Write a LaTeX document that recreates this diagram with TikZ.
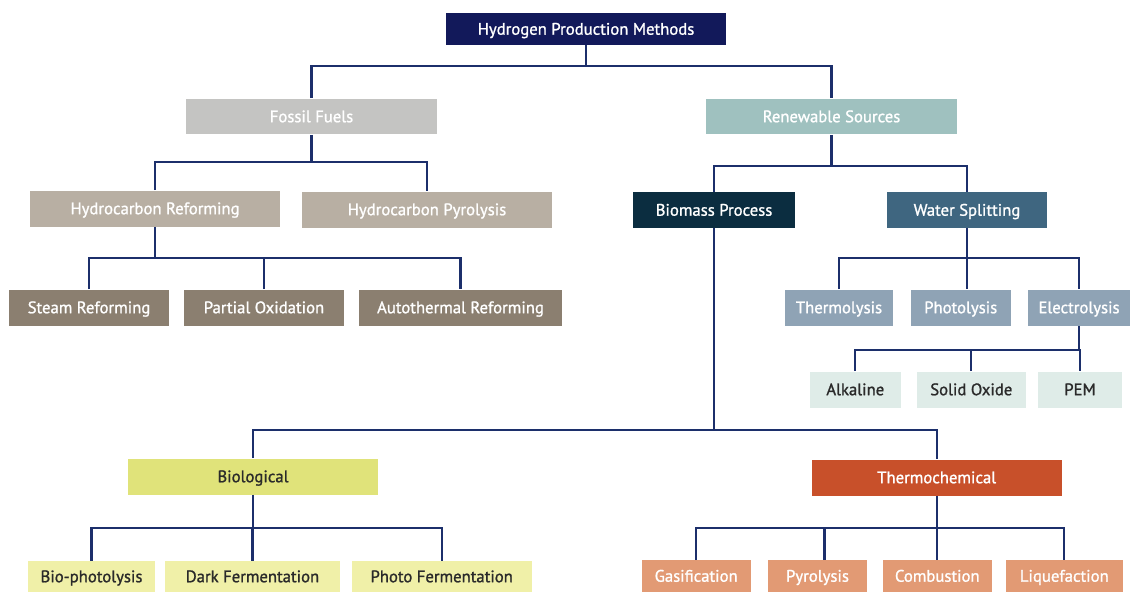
\documentclass[tikz,border=0pt]{standalone}
\usepackage{fontspec}
\setmainfont{PT Sans}
\newfontfamily\boxfont[FakeBold=1.2]{PT Sans}
\definecolor{rootcol}{HTML}{12195A}
\definecolor{fossilcol}{HTML}{C4C4C2}
\definecolor{renewcol}{HTML}{9FC1BF}
\definecolor{hydrocol}{HTML}{B8AFA3}
\definecolor{fleafcol}{HTML}{8B7F70}
\definecolor{biomasscol}{HTML}{0B2D40}
\definecolor{watercol}{HTML}{3F6680}
\definecolor{wleafcol}{HTML}{8FA3B5}
\definecolor{eleafcol}{HTML}{DFECE8}
\definecolor{biocol}{HTML}{E0E37A}
\definecolor{bleafcol}{HTML}{F0F0A8}
\definecolor{thermocol}{HTML}{C8502A}
\definecolor{tleafcol}{HTML}{E29A74}
\definecolor{wirecol}{HTML}{1C2F6B}
\definecolor{darktext}{HTML}{2A2A2A}
\tikzset{
  box/.style    = { rectangle, inner sep=0pt, minimum height=0.72cm, text=white,
                    text height=1.75ex, text depth=0.45ex,
                    font=\boxfont\fontsize{9.5}{11}\selectfont },
  wire/.style   = { draw=wirecol, line width=1.25pt },
  root/.style   = { box, fill=rootcol, minimum height=0.64cm },
  fossil/.style = { box, fill=fossilcol },
  renew/.style  = { box, fill=renewcol },
  hydro/.style  = { box, fill=hydrocol },
  fleaf/.style  = { box, fill=fleafcol },
  biomass/.style= { box, fill=biomasscol },
  water/.style  = { box, fill=watercol },
  wleaf/.style  = { box, fill=wleafcol },
  eleaf/.style  = { box, fill=eleafcol, text=darktext },
  bio/.style    = { box, fill=biocol, text=darktext },
  bleaf/.style  = { box, fill=bleafcol, text=darktext, minimum height=0.62cm },
  thermo/.style = { box, fill=thermocol },
  tleaf/.style  = { box, fill=tleafcol, minimum height=0.64cm }
}

\begin{document}
\begin{tikzpicture}[x=0.02cm, y=-0.02cm]
    \useasboundingbox (0,0) rectangle (1130,592);

    %% Boxes
    \node[root, minimum width=5.6cm] (hpm) at (586,29) {Hydrogen Production Methods};

    \node[fossil, minimum width=5.02cm] (ff) at (311.5,116.5) {Fossil Fuels};
    \node[renew, minimum width=5.02cm] (rs) at (831.5,116.5) {Renewable Sources};

    \node[hydro, minimum width=5cm] (hcr) at (155,208.5) {Hydrocarbon Reforming};
    \node[hydro, minimum width=5cm] (hcp) at (427,209.5) {Hydrocarbon Pyrolysis};
    \node[biomass, minimum width=3.24cm] (bmp) at (714,210) {Biomass Process};
    \node[water, minimum width=3.21cm] (wsp) at (967,210) {Water Splitting};

    \node[fleaf, minimum width=3.22cm] (str) at (89,307.5) {Steam Reforming};
    \node[fleaf, minimum width=3.22cm] (pox) at (264,307.5) {Partial Oxidation};
    \node[fleaf, minimum width=4.06cm] (atr) at (460.5,307.5) {Autothermal Reforming};

    \node[wleaf, minimum width=2.18cm] (tml) at (839,307.5) {Thermolysis};
    \node[wleaf, minimum width=2cm] (phl) at (960.7,307.5) {Photolysis};
    \node[wleaf, minimum width=2.04cm] (ell) at (1079,307.5) {Electrolysis};

    \node[eleaf, minimum width=1.82cm] (alk) at (855.3,389.5) {Alkaline};
    \node[eleaf, minimum width=2.18cm] (sox) at (971.3,389.5) {Solid Oxide};
    \node[eleaf, minimum width=1.68cm] (pem) at (1080,389.5) {PEM};

    \node[bio, minimum width=5.02cm] (bio) at (253,476.5) {Biological};
    \node[thermo, minimum width=5cm] (thc) at (936.7,477.5) {Thermochemical};

    \node[bleaf, minimum width=2.54cm] (bph) at (91.5,576.5) {Bio-photolysis};
    \node[bleaf, minimum width=3.5cm] (dfe) at (252.5,576.5) {Dark Fermentation};
    \node[bleaf, minimum width=3.6cm] (pfe) at (441.7,576.5) {Photo Fermentation};

    \node[tleaf, minimum width=2.18cm] (gas) at (696.2,576) {Gasification};
    \node[tleaf, minimum width=1.99cm] (pyr) at (817.5,576) {Pyrolysis};
    \node[tleaf, minimum width=2.17cm] (com) at (937.3,576) {Combustion};
    \node[tleaf, minimum width=2.33cm] (liq) at (1064.3,576) {Liquefaction};

    %% Bus levels
    \coordinate (b1) at (0,66);
    \coordinate (b2) at (0,162);
    \coordinate (b3) at (0,166);
    \coordinate (b4) at (0,258);
    \coordinate (b5) at (0,350);
    \coordinate (b6) at (0,430);
    \coordinate (b7) at (0,528);

    %% Connectors
    \draw[wire] (hpm.south) -- (hpm.south |- b1);
    \draw[wire] (ff.north) |- (rs.north |- b1) -- (rs.north);

    \draw[wire] (ff.south) -- (ff.south |- b2);
    \draw[wire] (hcr.north) |- (hcp.north |- b2) -- (hcp.north);

    \draw[wire] (hcr.south) -- (hcr.south |- b4);
    \draw[wire] (str.north) |- (atr.north |- b4) -- (atr.north);
    \draw[wire] (pox.north) -- (pox.north |- b4);

    \draw[wire] (rs.south) -- (rs.south |- b3);
    \draw[wire] (bmp.north) |- (wsp.north |- b3) -- (wsp.north);

    \draw[wire] (wsp.south) -- (wsp.south |- phl.north);
    \draw[wire] (tml.north) |- (ell.north |- b4) -- (ell.north);

    \draw[wire] (ell.south) -- (ell.south |- b5);
    \draw[wire] (alk.north) |- (pem.north |- b5) -- (pem.north);
    \draw[wire] (sox.north) -- (sox.north |- b5);

    \draw[wire] (bmp.south) -- (bmp.south |- b6);
    \draw[wire] (bio.north) |- (thc.north |- b6) -- (thc.north);

    \draw[wire] (bio.south) -- (bio.south |- b7);
    \draw[wire] (bph.north) |- (pfe.north |- b7) -- (pfe.north);
    \draw[wire] (dfe.north) -- (dfe.north |- b7);

    \draw[wire] (thc.south) -- (thc.south |- b7);
    \draw[wire] (gas.north) |- (liq.north |- b7) -- (liq.north);
    \draw[wire] ([xshift=0.14cm]pyr.north) -- ([xshift=0.14cm]pyr.north |- b7);
    \draw[wire] (com.north) -- (com.north |- b7);
\end{tikzpicture}
\end{document}
